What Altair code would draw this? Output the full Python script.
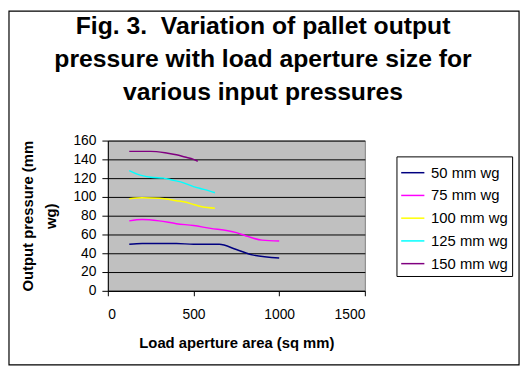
import altair as alt
import pandas as pd

series_names = ["50 mm wg", "75 mm wg", "100 mm wg", "125 mm wg", "150 mm wg"]
series_colors = ["#000080", "#FF00FF", "#FFFF00", "#00FFFF", "#800080"]

x_50 = [125, 200, 400, 500, 650, 750, 850, 1000]
y_50 = [49.5, 50.5, 50.5, 49.5, 49.5, 44, 38, 35]

x_75 = [125, 200, 300, 400, 500, 600, 700, 750, 800, 850, 900, 1000]
y_75 = [74.5, 76, 74.5, 71.5, 69.5, 66.5, 64, 62, 59, 56, 54, 53]

x_100 = [125, 200, 300, 400, 450, 500, 550, 625]
y_100 = [98, 99, 98.5, 96, 94.5, 92, 89.5, 88]

x_125 = [125, 175, 250, 325, 375, 425, 500, 560, 625]
y_125 = [128, 124, 121, 120, 118, 116, 111, 108, 104.5]

x_150 = [125, 250, 350, 400, 450, 500, 525]
y_150 = [148.5, 148.5, 146.5, 145, 142.5, 140, 138]

xs = [x_50, x_75, x_100, x_125, x_150]
ys = [y_50, y_75, y_100, y_125, y_150]

rows = []
for name, xv, yv in zip(series_names, xs, ys):
    for a, b in zip(xv, yv):
        rows.append({"series": name, "area": a, "pressure": b})
df = pd.DataFrame(rows)

FONT = "Liberation Sans"

lines = alt.Chart(df).mark_line(interpolate="monotone", strokeWidth=1.5).encode(
    x=alt.X("area:Q",
            scale=alt.Scale(domain=[0, 1500], nice=False),
            axis=alt.Axis(values=[0, 500, 1000, 1500], format="d", title="Load aperture area (sq mm)",
                          grid=False, tickSize=5, labelPadding=12, titlePadding=14)),
    y=alt.Y("pressure:Q",
            scale=alt.Scale(domain=[0, 160], nice=False),
            axis=alt.Axis(values=list(range(0, 161, 20)), format="d", title=["Output pressure (mm", "wg)"],
                          grid=True, tickSize=6, labelPadding=6,
                          titleX=-88, titleY=76, titleAngle=270, titleAlign="center",
                          titleBaseline="top", titleLineHeight=23)),
    color=alt.Color("series:N",
                    scale=alt.Scale(domain=series_names, range=series_colors),
                    sort=series_names,
                    legend=alt.Legend(title=None, orient="none", legendX=292, legendY=16,
                                      strokeColor="black", padding=4, fillColor="white",
                                      symbolType="stroke", symbolSize=550, symbolStrokeWidth=1.5,
                                      labelFontSize=15, labelFont=FONT, labelOffset=6,
                                      rowPadding=2, labelColor="black")),
    order=alt.Order("area:Q"),
)

border = alt.Chart(pd.DataFrame({"a": [0]})).mark_rect(fill=None, stroke="black", strokeWidth=1.2).encode(
    x=alt.value(-100), x2=alt.value(416), y=alt.value(-131), y2=alt.value(227)
)

chart = alt.layer(border, lines).properties(
    width=260, height=152,
    autosize="none",
    background="white",
    padding={"left": 101, "top": 132, "right": 160, "bottom": 80},
    title=alt.TitleParams(
        text=["Fig. 3.\u00a0 Variation of pallet output", "pressure with load aperture size for",
              "various input pressures"],
        font=FONT, fontSize=25, fontWeight="bold", color="black",
        anchor="middle", dx=27, dy=96, lineHeight=33.5, offset=0, baseline="top",
    ),
).configure_view(
    fill="#C0C0C0", stroke="#808080", strokeWidth=1
).configure_axis(
    labelFont=FONT, labelFontSize=14, labelColor="black",
    titleFont=FONT, titleFontSize=15, titleFontWeight="bold", titleColor="black",
    domainColor="black", tickColor="black", gridColor="black", gridWidth=1,
    domainWidth=1, tickWidth=1,
)

chart.save("out.html", embed_options={"renderer": "svg", "actions": False})
